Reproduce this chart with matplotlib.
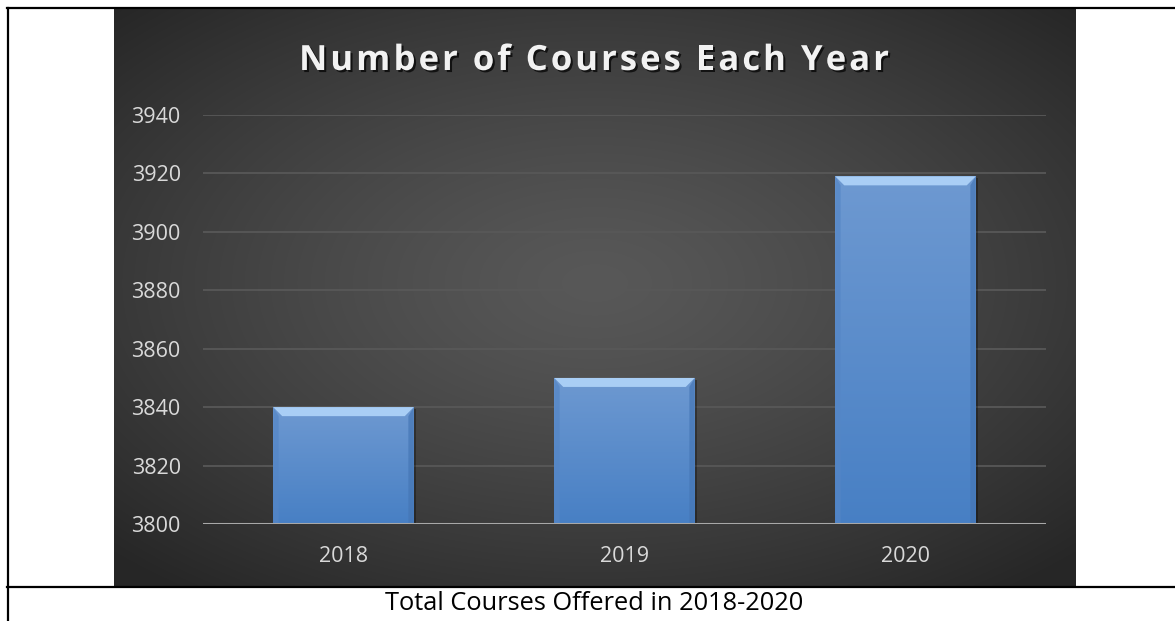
import numpy as np
import matplotlib
matplotlib.use("Agg")
import matplotlib.pyplot as plt
import matplotlib.patheffects as pe
from matplotlib.lines import Line2D
from matplotlib.patches import Polygon

# ---- data ----
years = ["2018", "2019", "2020"]
courses = [3840, 3850, 3919]
y_ticks = [3800, 3820, 3840, 3860, 3880, 3900, 3920, 3940]
title = "Number of Courses Each Year"
caption = "Total Courses Offered in 2018-2020"

W, H = 1175, 621
fig = plt.figure(figsize=(W / 100, H / 100), dpi=100)
fig.patch.set_facecolor("white")

def fx(px):
    return px / W

def fy(py):
    return 1 - py / H

# table-like borders
fig.add_artist(Line2D([fx(7), fx(1175)], [fy(8.3), fy(8.3)], color="black", lw=1.6))
fig.add_artist(Line2D([fx(7.5), fx(7.5)], [fy(8), fy(621)], color="black", lw=1.6))
fig.add_artist(Line2D([fx(7), fx(1175)], [fy(586.8), fy(586.8)], color="black", lw=1.6))

# dark chart background with radial gradient
bg = fig.add_axes([fx(114), fy(586), fx(1076 - 114), (586 - 9) / H])
bg.set_axis_off()
gx, gy = np.meshgrid(np.linspace(-1, 1, 400), np.linspace(-1, 1, 240))
r = np.sqrt((gx / 1.05) ** 2 + ((gy + 0.05) / 1.0) ** 2)
r = np.clip(r / 1.35, 0, 1)
val = 0.345 - (0.345 - 0.15) * r ** 1.3
img = np.dstack([val, val, val])
bg.imshow(img, extent=[0, 1, 0, 1], aspect="auto", interpolation="bilinear")
bg.set_xlim(0, 1)
bg.set_ylim(0, 1)

# main axes
ax = fig.add_axes([fx(203), fy(524), fx(1046 - 203), (524 - 115) / H])
ax.set_facecolor("none")
x = np.arange(len(years))
ax.set_xlim(-0.5, len(years) - 0.5)
ax.set_ylim(y_ticks[0], y_ticks[-1])

for s in ax.spines.values():
    s.set_visible(False)
ax.set_yticks(y_ticks)
ax.set_xticks(x)
ax.set_xticklabels(years)
ax.tick_params(axis="both", length=0, colors="#d9d9d9", labelsize=15.5)
ax.tick_params(axis="y", pad=16)
ax.tick_params(axis="x", pad=16)
for lab in ax.get_xticklabels() + ax.get_yticklabels():
    lab.set_fontfamily("Open Sans")
    lab.set_color("#d9d9d9")

for t in y_ticks[1:]:
    ax.axhline(t, color="#585858", lw=1.3, zorder=1)
ax.axhline(y_ticks[0], color="#a8a8a8", lw=2.2, zorder=4)

bars = ax.bar(x, courses, width=0.5, bottom=0, color="#5b8bcb", zorder=2,
              linewidth=0)
ax.set_ylim(y_ticks[0], y_ticks[-1])

# gradients and bevels
grad = np.linspace(0, 1, 100).reshape(-1, 1)
top_c = np.array([0.43, 0.60, 0.82])
bot_c = np.array([0.28, 0.50, 0.77])
gimg = top_c * (1 - grad[..., None]) + bot_c * grad[..., None]
px_y = (y_ticks[-1] - y_ticks[0]) / 409.0
px_x = 1.0 / 281.0
for b in bars:
    x0 = b.get_x()
    w = b.get_width()
    top = b.get_height()
    bot = y_ticks[0]
    b.set_path_effects([pe.SimplePatchShadow(offset=(1.5, -1.5), shadow_rgbFace="black", alpha=0.3),
                        pe.Normal()])
    im = ax.imshow(gimg, extent=[x0, x0 + w, bot, top], aspect="auto",
                   interpolation="bilinear", zorder=3)
    im.set_clip_path(b)
    bv = 9
    ax.add_patch(Polygon([[x0, top], [x0 + w, top], [x0 + w - bv * px_x, top - bv * px_y],
                          [x0 + bv * px_x, top - bv * px_y]], closed=True,
                         facecolor="#a9cef5", edgecolor="none", zorder=3.5))
    ax.add_patch(Polygon([[x0, top], [x0 + bv * px_x * 0.6, top - bv * px_y],
                          [x0 + bv * px_x * 0.6, bot], [x0, bot]], closed=True,
                         facecolor="#5586c6", edgecolor="none", zorder=3.4, alpha=0.7))
    ax.add_patch(Polygon([[x0 + w, top], [x0 + w - bv * px_x * 0.6, top - bv * px_y],
                          [x0 + w - bv * px_x * 0.6, bot], [x0 + w, bot]], closed=True,
                         facecolor="#4576b5", edgecolor="none", zorder=3.4, alpha=0.7))

# title with letter spacing
renderer = fig.canvas.get_renderer()
tkw = dict(color="#f2f2f2", fontsize=25, fontweight="bold", family="Open Sans",
           va="baseline", ha="left",
           path_effects=[pe.withSimplePatchShadow(offset=(1.5, -1.5), shadow_rgbFace="black", alpha=0.7)])
spacing = 3.0
widths = []
for ch in title:
    if ch == " ":
        t = fig.text(0, 0, "n n", **tkw)
        w3 = t.get_window_extent(renderer).width
        t.set_text("nn")
        w2 = t.get_window_extent(renderer).width
        t.remove()
        widths.append(w3 - w2)
    else:
        t = fig.text(0, 0, ch, **tkw)
        widths.append(t.get_window_extent(renderer).width)
        t.remove()
total = sum(widths) + spacing * (len(title) - 1)
cx = 594 - total / 2
for ch, wch in zip(title, widths):
    if ch != " ":
        fig.text(fx(cx), fy(70), ch, **tkw)
    cx += wch + spacing

# caption
fig.text(fx(594), fy(604), caption, ha="center", va="center", color="black",
         fontsize=18.3, family="Open Sans")

fig.savefig("out.png", dpi=100, facecolor="white")
